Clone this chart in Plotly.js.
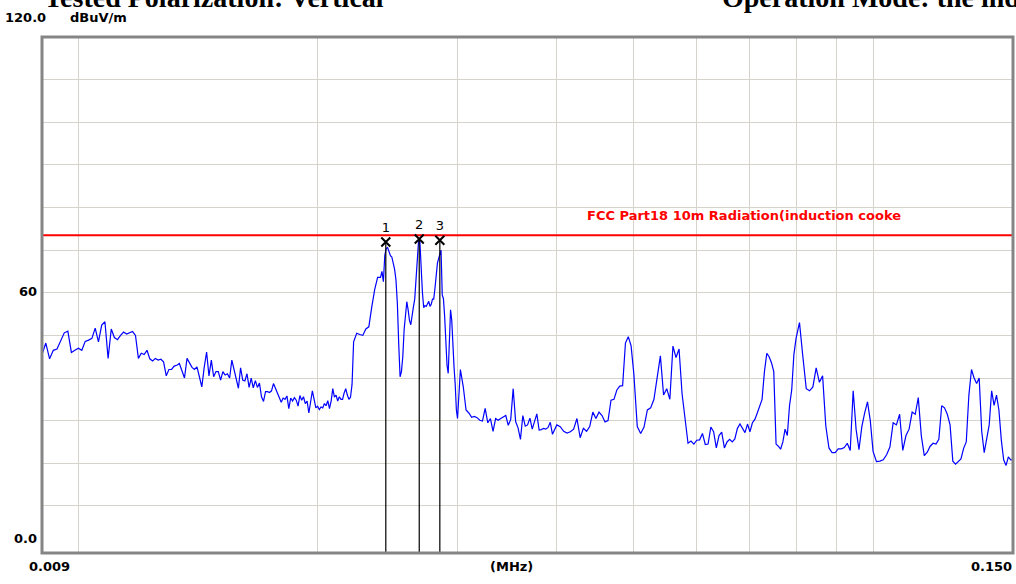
<!DOCTYPE html>
<html><head><meta charset="utf-8">
<script src="https://cdn.plot.ly/plotly-3.0.1.min.js"></script>
<style>html,body{margin:0;padding:0;background:#fff}#chart{width:1016px;height:584px}</style>
</head><body><div id="chart"></div>
<script>
// Frequencies in kHz (scan points), levels in dBuV/m
const freqA = [9.0,9.1,9.2,9.3,9.4,9.5,9.6,9.7,9.8,9.9,10.0,10.1,10.2,10.3,10.4,10.5,10.6,10.7,10.8,10.9,11.0,11.1,11.2,11.3,11.4,11.5,11.6,11.7,11.8,11.9];
const levelA = [45.5,48.2,44.5,46.5,46.8,48.9,50.6,51.0,46.0,46.5,47.0,46.5,48.6,48.9,49.3,51.7,48.5,52.4,53.2,44.6,51.5,49.5,49.0,50.0,50.8,50.3,50.6,50.9,50.0,44.6];
const freqB = [12.0,12.1,12.2,12.3,12.4,12.5,12.6,12.7,12.8,12.9,13.0,13.1,13.2,13.3,13.4,13.5,13.6,13.7,13.8,13.9,14.0,14.1,14.2,14.3,14.4,14.5,14.6,14.7,14.8,14.9,15.0,15.1,15.2,15.3,15.4,15.5,15.6,15.7,15.8,15.9,16.0,16.1,16.2,16.3,16.4,16.5,16.6,16.7,16.8,16.9,17.0,17.1,17.2,17.3,17.4,17.5,17.6,17.7,17.8,17.9,18.0,18.1,18.2,18.3,18.4,18.5,18.6,18.7,18.8,18.9,19.0,19.1,19.2,19.3,19.4,19.5,19.6,19.7,19.8,19.9];
const levelB = [45.8,45.5,46.5,44.5,44.0,44.6,44.2,44.4,43.8,40.5,42.0,42.0,42.8,43.0,43.4,41.5,40.0,44.6,43.5,42.5,42.0,42.6,40.3,37.9,42.5,46.1,40.5,44.2,40.3,41.5,41.5,39.5,41.5,40.7,41.0,40.0,44.2,42.0,40.5,37.6,42.4,39.5,39.3,41.0,37.8,40.0,37.7,39.4,37.8,38.8,35.6,34.5,36.8,36.8,36.6,37.0,38.7,37.5,36.8,35.4,34.3,35.3,35.0,35.8,32.8,35.3,34.6,35.4,34.8,33.4,35.9,34.8,35.6,34.0,34.6,31.8,34.8,37.0,35.0,33.0];
const freqC = [20.0,20.1,20.2,20.3,20.4,20.5,20.6,20.7,20.8,20.9,21.0,21.1,21.2,21.3,21.4,21.5,21.6,21.7,21.8,21.9,22.0,22.1,22.2,22.4,22.6,22.8,23.0,23.2,23.4,23.6,23.8];
const levelC = [33.4,32.6,33.2,33.0,34.0,33.5,34.7,32.8,34.6,37.5,35.5,36.0,34.6,35.6,35.0,35.0,36.5,37.5,36.0,35.0,35.5,38.5,48.5,50.5,50.2,50.0,51.5,52.0,56.7,60.8,63.6];
const freqD = [24.0,24.1,24.2,24.3,24.4,24.5,24.6,24.7,24.8,24.9,25.0,25.1,25.2,25.3,25.4,25.5,25.6,25.7,25.8,25.9,26.0,26.1,26.2,26.3,26.4,26.5,26.6,26.7,26.8,26.9,27.0,27.1,27.2,27.3,27.4,27.5,27.6,27.7,27.8,27.9,28.0,28.1,28.2,28.3,28.4,28.5,28.6,28.7,28.8,28.9,29.0,29.1,29.2,29.3,29.4,29.5,29.6,29.7,29.8,29.9];
const levelD = [63.6,65.0,62.6,68.8,70.4,70.6,69.8,68.7,68.4,67.0,65.5,63.0,57.5,48.0,40.3,41.5,45.0,51.4,55.5,57.9,56.0,53.5,52.5,55.4,56.7,58.5,63.7,66.9,72.3,72.0,65.3,60.0,56.5,57.0,56.8,57.5,58.0,56.8,57.3,58.5,58.5,61.0,65.0,66.9,68.0,69.1,70.0,59.5,58.6,54.5,48.5,43.0,41.1,50.0,56.0,53.6,47.0,42.5,38.5,32.5];
const freqE = [30.0,30.25,30.5,30.75,31.0,31.25,31.5,31.75,32.0,32.25,32.5,32.75,33.0,33.25,33.5,33.75,34.0,34.25,34.5,34.75,35.0,35.25,35.5,35.75,36.0,36.25,36.5,36.75,37.0,37.25,37.5,37.75,38.0,38.25,38.5,38.75,39.0,39.25,39.5,39.75];
const levelE = [30.5,42.0,38.0,32.5,31.8,30.8,31.0,30.7,30.1,29.9,32.9,29.5,30.5,27.5,30.5,30.1,30.5,30.9,31.2,28.9,30.3,37.5,29.8,28.3,25.6,31.2,28.7,29.0,30.6,28.0,29.6,31.6,27.8,27.9,28.2,28.0,28.4,29.6,26.8,28.0];
const freqF = [40.0,40.4,40.8,41.2,41.6,42.0,42.4,42.8,43.2,43.6,44.0,44.4,44.8,45.2,45.6,46.0,46.4,46.8,47.2,47.6,48.0,48.4,48.8,49.2,49.6];
const levelF = [29.0,28.6,27.5,27.1,27.4,28.0,30.5,26.0,28.2,27.5,28.6,32.0,30.5,32.0,31.2,29.7,30.0,34.8,35.0,37.2,38.1,38.2,48.2,49.7,47.6];
const freqG = [50.0,50.5,51.0,51.5,52.0,52.5,53.0,53.5,54.0,54.5,55.0,55.5,56.0,56.5,57.0,57.5,58.0,58.5,59.0,59.5];
const levelG = [41.0,28.6,27.0,28.5,32.5,33.0,35.0,40.5,45.2,36.0,37.5,35.0,47.5,44.8,46.8,36.3,30.0,24.7,25.2,24.5];
const freqH = [60.0,60.5,61.0,61.5,62.0,62.5,63.0,63.5,64.0,64.5,65.0,65.5,66.0,66.5,67.0,67.5,68.0,68.5,69.0,69.5,70.0,70.5,71.0,71.5,72.0,72.5,73.0,73.5,74.0,74.5,75.0,75.5,76.0,76.5,77.0,77.5,78.0,78.5,79.0,79.5];
const levelH = [25.4,25.5,27.0,24.4,24.5,28.5,27.4,23.6,26.5,27.3,23.6,25.0,25.6,25.0,25.7,28.2,29.2,28.0,27.2,29.2,27.4,29.5,30.3,31.8,33.2,35.0,41.5,45.8,45.0,43.6,41.5,24.5,24.0,23.3,25.0,28.0,26.5,33.5,37.2,45.5];
const freqI = [80.0,80.8,81.6,82.4,83.2,84.0,84.8,85.6,86.4,87.2,88.0,88.8,89.6,90.4,91.2,92.0,92.8,93.6,94.4,95.2,96.0,96.8,97.6,98.4,99.2];
const levelI = [49.3,53.0,45.0,37.5,37.0,37.9,42.4,39.0,40.5,28.8,23.6,22.5,22.5,23.4,23.4,23.7,24.7,23.0,37.0,28.0,23.2,28.6,31.8,34.4,30.0];
const freqJ = [100,101,102,103,104,105,106,107,108,109,110,111,112,113,114,115,116,117,118,119,120,121,122,123,124,125,126,127,128,129,130,131,132,133,134,135,136,137,138,139,140,141,142,143,144,145,146,147,148,149,150];
const levelJ = [22.8,20.4,20.5,20.8,22.0,23.8,29.5,29.0,31.5,23.0,26.5,28.0,32.0,31.5,35.4,26.5,21.8,22.6,24.0,24.7,24.5,25.6,33.5,33.0,31.5,29.0,20.5,19.8,20.5,21.0,23.5,25.0,36.0,42.0,40.0,38.7,40.0,27.5,22.5,25.4,29.0,37.0,33.6,36.0,32.5,25.5,20.8,19.5,21.5,20.8,20.8];

const limitLevel = 73.5;
const limitLabel = "FCC Part18 10m Radiation(induction cooke";
const markerNames = ["1","2","3"];
const markerFreqKHz = [24.37, 26.85, 28.50];
const markerLevels = [71.9, 72.6, 72.3];
const xStartMHz = 0.009, xEndMHz = 0.150;
const gridFreqMHz = [0.01,0.02,0.03,0.04,0.05,0.06,0.07,0.08,0.09,0.10];
const gridLevels = [10,20,30,40,50,60,70,80,90,100,110];
const yMin = -1.05, yMax = 120;

const freqKHz = [].concat(freqA,freqB,freqC,freqD,freqE,freqF,freqG,freqH,freqI,freqJ);
const levels = [].concat(levelA,levelB,levelC,levelD,levelE,levelF,levelG,levelH,levelI,levelJ);
const freqMHz = freqKHz.map(v => v/1000);
const mkMHz = markerFreqKHz.map(v => v/1000);

const traces = [];
traces.push({x: freqMHz, y: levels, type:'scatter', mode:'lines',
  line:{color:'#0000ff', width:1.2}, hoverinfo:'skip'});
traces.push({x:[xStartMHz, xEndMHz], y:[limitLevel, limitLevel], type:'scatter', mode:'lines',
  line:{color:'#ff0000', width:2}, hoverinfo:'skip'});
for (let i=0;i<mkMHz.length;i++){
  traces.push({x:[mkMHz[i], mkMHz[i]], y:[markerLevels[i], yMin], type:'scatter', mode:'lines',
    line:{color:'#000000', width:1.2}, hoverinfo:'skip'});
}
traces.push({x: mkMHz, y: markerLevels, type:'scatter', mode:'markers+text', text: markerNames,
  textposition:'top center', textfont:{family:'DejaVu Sans', size:13, color:'#000'},
  marker:{symbol:'x-thin', size:9, color:'#000', line:{color:'#000', width:2}}, hoverinfo:'skip', cliponaxis:false});

const lblFont = {family:'DejaVu Sans', size:13, color:'#000', weight:'bold'};
function px2x(px){ return (px-42)/971; }
function py2y(py){ return (553-py)/516; }
const ann = [];
function add(text, px, py, xanchor, font){
  ann.push({text:text, xref:'paper', yref:'paper', x:px2x(px), y:py2y(py), xanchor:xanchor, yanchor:'middle',
    showarrow:false, font: font || lblFont});
}
add('120.0', 3, 18, 'left');
add('dBuV/m', 68, 18, 'left');
add('60', 39, 291, 'right');
add('0.0', 39, 538, 'right');
add('0.009', 27, 566, 'left');
add('(MHz)', 488, 566, 'left');
add('0.150', 1014, 566, 'right');
add('120.0', 3, 591, 'left');
add('dBuV/m', 68, 591, 'left');
add(limitLabel, 585, 216, 'left', {family:'DejaVu Sans', size:13, color:'#ff0000', weight:'bold'});
const titleFont = {family:'Liberation Serif', size:28, color:'#000', weight:'bold'};
add('Tested Polarization: Vertical', 42, -3, 'left', titleFont);
add('Operation Mode: the induction cooker', 720, -3, 'left', titleFont);

const layout = {
  width:1016, height:584,
  margin:{l:42, r:3, t:37, b:31, pad:0},
  paper_bgcolor:'#ffffff', plot_bgcolor:'#ffffff',
  showlegend:false,
  xaxis:{type:'log', range:[Math.log10(xStartMHz), Math.log10(xEndMHz)], tickmode:'array',
    tickvals:gridFreqMHz, showticklabels:false, ticks:'', showgrid:true, gridcolor:'#d6d2cc', gridwidth:1,
    zeroline:false, showline:false, fixedrange:true},
  yaxis:{range:[yMin, yMax], tickmode:'array', tickvals:gridLevels, showticklabels:false, ticks:'',
    showgrid:true, gridcolor:'#d6d2cc', gridwidth:1, zeroline:false, showline:false, fixedrange:true},
  shapes:[{type:'rect', xref:'paper', yref:'paper', x0:0, x1:1, y0:0, y1:1,
    line:{color:'#858585', width:3}, layer:'above'}],
  annotations: ann
};
Plotly.newPlot('chart', traces, layout, {displayModeBar:false, staticPlot:true});
</script></body></html>
